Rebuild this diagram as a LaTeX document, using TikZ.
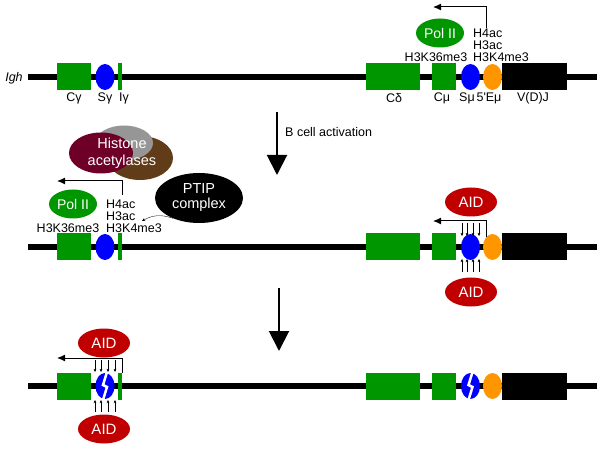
\documentclass[tikz,border=0pt]{standalone}
\usepackage{fontspec}
\setmainfont{Liberation Sans}
\usepackage{xcolor}
\usetikzlibrary{shapes.geometric,arrows.meta,positioning}
\definecolor{genegreen}{RGB}{0,150,0}
\definecolor{swblue}{RGB}{0,0,255}
\definecolor{enhorange}{RGB}{255,150,0}
\definecolor{aidred}{RGB}{192,0,0}
\definecolor{hatmaroon}{RGB}{110,0,40}
\definecolor{hatbrown}{RGB}{96,60,25}
\definecolor{hatgray}{RGB}{150,150,150}

\begin{document}
\begin{tikzpicture}[x=1pt,y=-1pt,
	gene/.style={rectangle,fill=genegreen,inner sep=0,minimum height=27},
	switch/.style={ellipse,fill=swblue,inner sep=0,minimum width=19,minimum height=26},
	enh/.style={ellipse,fill=enhorange,inner sep=0,minimum width=19,minimum height=26},
	vdj/.style={rectangle,fill=black,inner sep=0,minimum width=65,minimum height=27},
	polii/.style={ellipse,fill=genegreen,text=white,inner sep=0,minimum width=48,minimum height=29,font=\fontsize{14}{14}\selectfont},
	aid/.style={ellipse,fill=aidred,text=white,inner sep=0,minimum width=52,minimum height=29,font=\fontsize{15}{15}\selectfont},
	lbl/.style={inner sep=0,font=\fontsize{12.5}{12.5}\selectfont},
	mk/.style={inner sep=0,align=left,anchor=west,font=\fontsize{12.5}{12}\selectfont},
	tx/.style={-{Latex[length=8pt,width=7pt]},line width=1pt},
	tiny/.style={-{Stealth[length=3.2pt,width=2.8pt]},line width=0.35pt},
	big/.style={-{Triangle[length=20pt,width=20pt]},line width=2pt},
	brk/.style={white,line width=2.5pt}]
	\useasboundingbox (0,0) rectangle (600,449);

	% three copies of the locus
	\foreach \r/\y in {1/77,2/247,3/386}{
		\coordinate (ls\r) at (28,\y);
		\coordinate (le\r) at (597,\y);
		\draw[line width=6pt] (ls\r) -- (le\r);
		\node[gene,minimum width=34] (cg\r) at (74,\y) {};
		\node[gene,minimum width=4] (ig\r) at (120,\y) {};
		\node[gene,minimum width=54] (cd\r) at (393,\y) {};
		\node[gene,minimum width=24] (cm\r) at (444,\y) {};
		\node[enh] (em\r) at (492.5,\y) {};
		\node[vdj] (vj\r) at (534.5,\y) {};
		\node[switch] (sg\r) at (105,\y) {};
		\node[switch] (sm\r) at (470.5,\y) {};
	}
	% broken switch regions
	\foreach \s in {sg3,sm3}
		\draw[brk] ([shift={(2,-14)}]\s.center) -- ([shift={(-2,-1)}]\s.center)
			-- ([shift={(2,1)}]\s.center) -- ([shift={(-2,14)}]\s.center);

	% row 1
	\node[lbl,font=\fontsize{12.5}{12.5}\selectfont\itshape] (igh) at (14,78) {Igh};
	\node[lbl] (lcg) at (74,98) {Cγ};
	\node[lbl] (lsg) at (105,98) {Sγ};
	\node[lbl] (lig) at (124,98) {Iγ};
	\node[lbl] (lcd) at (394,98) {Cδ};
	\node[lbl] (lcm) at (442,98) {Cμ};
	\node[lbl] (lsm) at (467,98) {Sμ};
	\node[lbl] (lem) at (489,98) {5\textquotesingle Eμ};
	\node[lbl] (lvj) at (533,98) {V(D)J};
	\node[polii] (pol1) at (440,33) {Pol II};
	\node[lbl] (k36a) at (436,57) {H3K36me3};
	\node[mk] (mk1) at (473,45) {H4ac\\H3ac\\H3K4me3};
	\coordinate (tss1) at (486,28);
	\coordinate (tend1) at (433,7);
	\draw[tx] (tss1) |- (tend1);

	% B cell activation
	\coordinate (a1s) at (277,112);
	\coordinate (a1e) at (277,175);
	\draw[big] (a1s) -- (a1e);
	\node[lbl,anchor=west] (bact) at (285,132) {B cell activation};

	% row 2
	\node[ellipse,fill=hatbrown,minimum width=66,minimum height=44] (hat3) at (140,158) {};
	\node[ellipse,fill=hatgray,minimum width=58,minimum height=35] (hat2) at (124,143) {};
	\node[ellipse,fill=hatmaroon,minimum width=64,minimum height=41] (hat1) at (101,153) {};
	\node[lbl,align=center,text=white,font=\fontsize{14.5}{17}\selectfont] (hat) at (122,153) {Histone\\acetylases};
	\node[ellipse,fill=black,text=white,align=center,inner sep=0,minimum width=88,minimum height=50,
		font=\fontsize{14.5}{15}\selectfont] (ptip) at (199,198) {PTIP\\complex};
	\node[polii] (pol2) at (73,204) {Pol II};
	\node[lbl] (k36b) at (68,228) {H3K36me3};
	\node[mk] (mk2) at (106,216) {H4ac\\H3ac\\H3K4me3};
	\coordinate (tss2) at (122,195);
	\coordinate (tend2) at (57,181);
	\draw[tx] (tss2) |- (tend2);
	\coordinate (ptipend) at (142,221);
	\draw[tiny] (ptip.218) to[bend right=25] (ptipend);

	\node[aid] (aid2t) at (471,202) {AID};
	\node[aid] (aid2b) at (471,292) {AID};
	\coordinate (tss3) at (486,237);
	\coordinate (tend3) at (433,221);
	\draw[tx] (tss3) |- (tend3);
	\foreach \x in {462,467,473,479}{
		\coordinate (dt\x) at (\x,223);
		\coordinate (db\x) at (\x,272);
		\draw[tiny] (dt\x) -- +(0,13);
		\draw[tiny] (db\x) -- +(0,-13);
	}

	% second arrow
	\coordinate (a2s) at (279,288);
	\coordinate (a2e) at (279,351);
	\draw[big] (a2s) -- (a2e);

	% row 3
	\node[aid] (aid3t) at (104,343) {AID};
	\node[aid] (aid3b) at (104,429) {AID};
	\coordinate (tss4) at (122,373);
	\coordinate (tend4) at (57,358);
	\draw[tx] (tss4) |- (tend4);
	\foreach \x in {95,101,108,115}{
		\coordinate (et\x) at (\x,360);
		\coordinate (eb\x) at (\x,412);
		\draw[tiny] (et\x) -- +(0,12);
		\draw[tiny] (eb\x) -- +(0,-12);
	}
\end{tikzpicture}
\end{document}
